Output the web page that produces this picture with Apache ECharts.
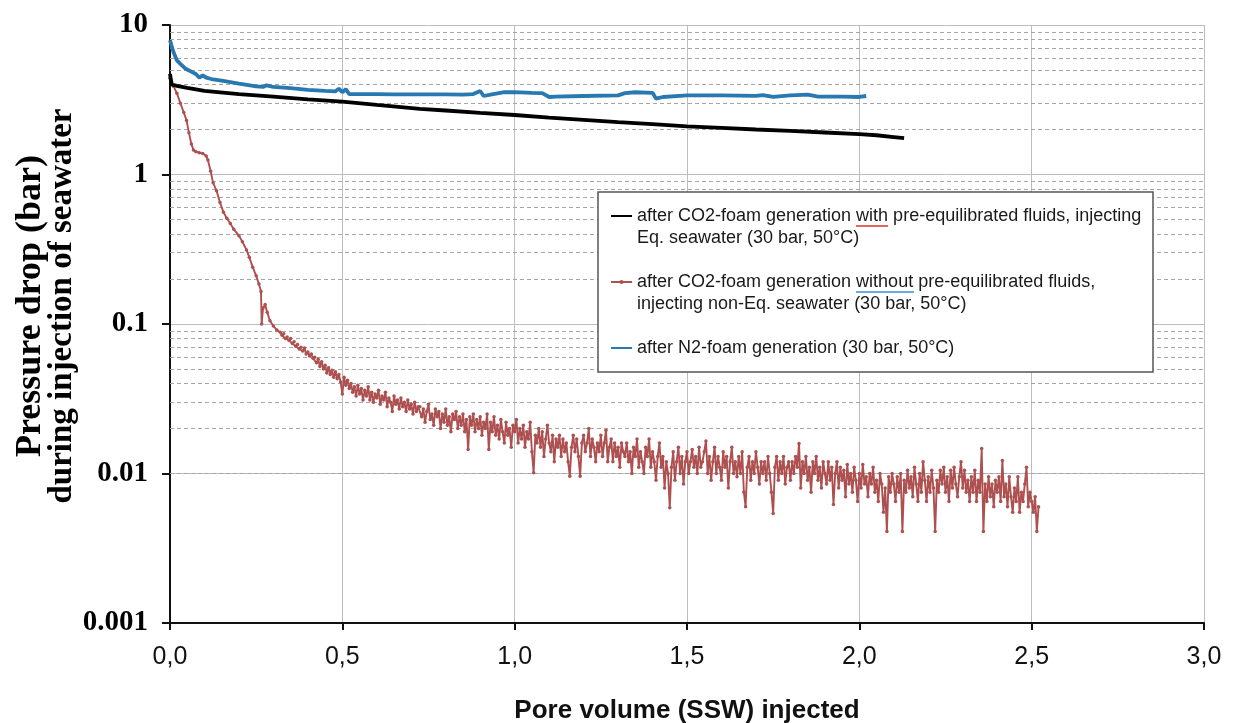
<!DOCTYPE html>
<html>
<head>
<meta charset="utf-8">
<script src="https://cdn.jsdelivr.net/npm/echarts@6/dist/echarts.min.js"></script>
<style>
  html, body { margin: 0; padding: 0; background: #fff; }
  #chart { width: 1233px; height: 723px; }
</style>
</head>
<body>
<div id="chart"></div>
<script>
// Axis tick labels
const xTickLabels = ['0,0', '0,5', '1,0', '1,5', '2,0', '2,5', '3,0'];
const yTickLabels = ['0.001', '0.01', '0.1', '1', '10'];

// Axis titles
const xTitle = 'Pore volume (SSW) injected';
const yTitleLines = ['Pressure drop (bar)', 'during injection of seawater'];

// Legend / series names
const seriesNames = [
  'after CO2-foam generation with pre-equilibrated fluids, injecting\nEq. seawater (30 bar, 50°C)',
  'after CO2-foam generation without pre-equilibrated fluids,\ninjecting non-Eq. seawater (30 bar, 50°C)',
  'after N2-foam generation (30 bar, 50°C)'
];

// CO2 foam, pre-equilibrated fluids: [pore volume, pressure drop (bar)]
const co2EqData = [
  [0, 4.7], [0.005, 4.0], [0.02, 3.92], [0.05, 3.8], [0.1, 3.62], [0.2, 3.45],
  [0.3, 3.32], [0.4, 3.18], [0.5, 3.07], [0.6, 2.92], [0.725, 2.75], [0.8, 2.68],
  [0.9, 2.58], [1.0, 2.5], [1.1, 2.4], [1.2, 2.32], [1.3, 2.24], [1.4, 2.17],
  [1.5, 2.1], [1.6, 2.05], [1.7, 2.0], [1.8, 1.96], [1.9, 1.91], [2.0, 1.86],
  [2.05, 1.83], [2.1, 1.78], [2.13, 1.75]
];

// N2 foam: [pore volume, pressure drop (bar)]
const n2Data = [
  [0, 7.9], [0.005, 7.2], [0.01, 6.6], [0.02, 5.8], [0.03, 5.5], [0.045, 5.1],
  [0.06, 4.9], [0.075, 4.7], [0.085, 4.45], [0.095, 4.6], [0.105, 4.45], [0.12, 4.35],
  [0.15, 4.25], [0.2, 4.05], [0.25, 3.88], [0.27, 3.85], [0.28, 3.95], [0.3, 3.85],
  [0.35, 3.78], [0.4, 3.68], [0.45, 3.62], [0.48, 3.6], [0.49, 3.75], [0.5, 3.55],
  [0.51, 3.72], [0.52, 3.45], [0.55, 3.45], [0.6, 3.45], [0.65, 3.44], [0.7, 3.44],
  [0.75, 3.43], [0.8, 3.44], [0.85, 3.42], [0.88, 3.45], [0.9, 3.62], [0.91, 3.35],
  [0.93, 3.42], [0.97, 3.55], [1.0, 3.56], [1.05, 3.52], [1.08, 3.5], [1.1, 3.3],
  [1.12, 3.32], [1.2, 3.35], [1.3, 3.38], [1.32, 3.5], [1.35, 3.55], [1.4, 3.52],
  [1.41, 3.22], [1.43, 3.3], [1.5, 3.38], [1.6, 3.38], [1.7, 3.36], [1.72, 3.4],
  [1.75, 3.3], [1.8, 3.38], [1.85, 3.42], [1.88, 3.32], [1.95, 3.32], [2.0, 3.3],
  [2.02, 3.35]
];

// CO2 foam, non-equilibrated seawater: initial decline [pore volume, pressure drop (bar)]
const co2NonEqDecline = [
  [0, 4.4], [0.004, 4.2], [0.01, 3.9], [0.02, 3.5], [0.03, 3.0], [0.04, 2.6],
  [0.048, 2.3], [0.055, 1.9], [0.062, 1.6], [0.068, 1.46], [0.075, 1.42], [0.085, 1.4],
  [0.095, 1.38], [0.105, 1.33], [0.11, 1.25], [0.118, 1.05], [0.125, 0.88], [0.135, 0.78],
  [0.145, 0.65], [0.155, 0.56], [0.165, 0.51], [0.175, 0.47], [0.185, 0.43], [0.2, 0.39],
  [0.21, 0.355], [0.222, 0.313], [0.23, 0.28], [0.24, 0.24], [0.25, 0.21], [0.258, 0.185],
  [0.264, 0.165], [0.266, 0.1], [0.27, 0.128], [0.276, 0.135], [0.282, 0.12], [0.29, 0.105],
  [0.3, 0.097], [0.31, 0.091]
];

// CO2 foam, non-equilibrated seawater: logged readings from 0.32 PV, every 0.005 PV
const co2NonEqTailStart = 0.32;
const co2NonEqTailStep = 0.005;
const co2NonEqTail = [
  .088, .084, .086, .080, .082, .078, .080, .074, .076, .071,
  .073, .068, .070, .066, .069, .063, .065, .061, .063, .059, .060,
  .055, .058, .052, .056, .050, .053, .047, .051, .046, .049,
  .044, .048, .043, .046, .041, .034, .044, .039, .042, .037,
  .040, .035, .038, .033, .039, .034, .037, .031, .036, .033,
  .038, .031, .035, .030, .034, .032, .036, .029, .033, .031,
  .035, .028, .032, .030, .026, .033, .029, .031, .027, .032,
  .028, .030, .026, .031, .027, .029, .025, .030, .026, .028,
  .028, .024, .027, .022, .026, .029, .023, .025, .021, .027,
  .024, .026, .020, .025, .022, .027, .021, .024, .019, .025,
  .023, .026, .020, .024, .021, .025, .019, .023, .0145, .024,
  .021, .025, .019, .023, .020, .024, .018, .022, .020, .025,
  .0145, .022, .019, .024, .018, .021, .017, .023, .019, .016,
  .022, .018, .020, .015, .021, .019, .023, .016, .020, .017,
  .021, .015, .019, .017, .022, .014, .0101, .018, .016, .020,
  .015, .019, .013, .017, .021, .016, .014, .018, .012, .017,
  .015, .018, .013, .017, .014, .016, .012, .0096, .015, .018,
  .014, .017, .013, .0096, .016, .018, .014, .016, .020, .013,
  .017, .015, .012, .016, .014, .018, .013, .016, .0195, .012,
  .015, .017, .012, .016, .013, .015, .011, .016, .014, .013,
  .016, .012, .014, .010, .015, .013, .017, .011, .014, .012,
  .010, .015, .013, .017, .011, .014, .012, .009, .013, .016,
  .011, .013, .008, .012, .010, .0059, .011, .014, .009, .012,
  .015, .010, .013, .0085, .012, .014, .010, .012, .0145, .011,
  .013, .010, .015, .011, .012, .014, .0165, .010, .013, .009,
  .012, .015, .010, .013, .011, .009, .014, .011, .013, .008,
  .012, .015, .010, .012, .0095, .013, .010, .014, .0075, .006,
  .011, .013, .009, .012, .010, .014, .011, .0085, .012, .010,
  .012, .009, .013, .010, .0075, .0054, .011, .013, .009, .012,
  .010, .013, .0085, .011, .012, .009, .012, .010, .013, .011,
  .0159, .008, .012, .010, .013, .009, .011, .0075, .012, .010,
  .013, .009, .011, .008, .012, .010, .0085, .012, .009, .011,
  .0062, .010, .012, .008, .011, .009, .0105, .007, .0115, .0085,
  .010, .0075, .011, .009, .0065, .010, .008, .0115, .0085, .0095,
  .007, .010, .0085, .011, .0075, .009, .0065, .010, .0085, .0055,
  .008, .0041, .0095, .0075, .010, .0085, .0065, .0095, .0075, .010,
  .0041, .009, .0075, .0105, .008, .0095, .007, .011, .0085, .0065,
  .010, .0075, .012, .009, .0065, .0095, .0075, .0105, .008, .0041,
  .009, .0075, .0105, .0085, .011, .0075, .0095, .0065, .0105, .008,
  .011, .0085, .007, .0095, .012, .008, .0105, .0075, .009, .0065,
  .0095, .0075, .0105, .0065, .009, .0075, .0147, .0041, .0085, .0065,
  .0095, .007, .0085, .006, .009, .0075, .0095, .0065, .0122, .007,
  .0085, .006, .0095, .007, .0055, .008, .0065, .0095, .0055, .0075,
  .0065, .0085, .011, .006, .0075, .0065, .0055, .007, .0041, .006
];

// Minor grid lines at 2..9 within each decade
const decades = [0.001, 0.01, 0.1, 1];
const minorSteps = [2, 3, 4, 5, 6, 7, 8, 9];

const co2NonEqData = co2NonEqDecline.concat(
  co2NonEqTail.map((v, i) => [+(co2NonEqTailStart + i * co2NonEqTailStep).toFixed(3), v])
);

const minorLines = [];
decades.forEach(d => minorSteps.forEach(k => minorLines.push({ yAxis: +(k * d).toPrecision(3) })));

const chart = echarts.init(document.getElementById('chart'), null, { renderer: 'canvas' });

const sansFont = '"Liberation Sans", Arial, sans-serif';
const serifFont = '"Liberation Serif", "Times New Roman", serif';
const hiddenMark = { color: 'rgba(0,0,0,0)', borderWidth: 0 };

function yTitleText(text, x, size) {
  return {
    type: 'text', z: 7, silent: true,
    x: x, y: 306, rotation: Math.PI / 2,
    style: {
      text: text, font: 'bold ' + size + 'px ' + serifFont, fill: '#000',
      align: 'center', verticalAlign: 'middle',
      textAlign: 'center', textVerticalAlign: 'middle'
    }
  };
}

chart.setOption({
  animation: false,
  backgroundColor: '#fff',
  grid: { left: 170, right: 29, top: 25, bottom: 100, containLabel: false, outerBoundsMode: 'none' },
  xAxis: {
    type: 'value', min: 0, max: 3, interval: 0.5,
    axisLine: { show: true, onZero: false, lineStyle: { color: '#111', width: 2 } },
    axisTick: { show: true, inside: false, length: 7, lineStyle: { color: '#111', width: 2 } },
    axisLabel: {
      margin: 22, fontFamily: sansFont, fontSize: 25, color: '#111',
      formatter: v => xTickLabels[Math.round(v / 0.5)]
    },
    splitLine: { show: true, lineStyle: { color: '#bdbdbd', width: 1 } },
    name: xTitle,
    nameLocation: 'middle', nameGap: 75,
    nameTextStyle: { fontFamily: sansFont, fontSize: 26, fontWeight: 'bold', color: '#111' }
  },
  yAxis: {
    type: 'log', logBase: 10, min: 0.001, max: 10,
    axisLine: { show: true, lineStyle: { color: '#111', width: 2 } },
    axisTick: { show: true, inside: false, length: 8, lineStyle: { color: '#111', width: 2 } },
    minorTick: { show: false },
    axisLabel: {
      margin: 22, fontFamily: serifFont, fontSize: 29, fontWeight: 'bold', color: '#000',
      formatter: v => yTickLabels[Math.round(Math.log10(v)) + 3]
    },
    splitLine: { show: true, lineStyle: { color: '#bdbdbd', width: 1 } }
  },
  legend: {
    orient: 'vertical', left: 610, top: 183, padding: 0, itemGap: 0,
    itemWidth: 21, itemHeight: 5, z: 6,
    lineStyle: { width: 2 },
    textStyle: { fontFamily: sansFont, fontSize: 18, color: '#1a1a1a', lineHeight: 22 },
    // an empty first line keeps each symbol level with the first line of its entry
    formatter: name => name === seriesNames[2] ? ' \n' + name + '\n ' : ' \n' + name,
    data: [
      { name: seriesNames[0], itemStyle: hiddenMark },
      { name: seriesNames[1] },
      { name: seriesNames[2], itemStyle: hiddenMark }
    ]
  },
  graphic: [
    {
      type: 'rect', z: 5, silent: true,
      shape: { x: 598, y: 192, width: 555, height: 180 },
      style: { fill: '#fff', stroke: '#555', lineWidth: 1.5 }
    },
    {
      type: 'line', z: 7, silent: true,
      shape: { x1: 856, y1: 226, x2: 888, y2: 226 },
      style: { stroke: '#e0302a', lineWidth: 1.5 }
    },
    {
      type: 'line', z: 7, silent: true,
      shape: { x1: 856, y1: 292, x2: 914, y2: 292 },
      style: { stroke: '#3a8fd8', lineWidth: 1.5 }
    },
    yTitleText(yTitleLines[0], 31, 36),
    yTitleText(yTitleLines[1], 62, 33)
  ],
  series: [
    {
      name: seriesNames[0], type: 'line', z: 3,
      data: co2EqData, showSymbol: false, symbol: 'none',
      lineStyle: { color: '#000', width: 3.8 }, itemStyle: { color: '#000' },
      markLine: {
        silent: true, z: 1, symbol: ['none', 'none'], label: { show: false },
        lineStyle: { color: '#a6a6a6', width: 1, type: [4, 3] },
        emphasis: { disabled: true },
        data: minorLines
      }
    },
    {
      name: seriesNames[1], type: 'line', z: 2,
      data: co2NonEqData, symbol: 'circle', symbolSize: 3.5, showSymbol: true, showAllSymbol: true,
      lineStyle: { color: '#ad504f', width: 1.9 }, itemStyle: { color: '#ad504f' }
    },
    {
      name: seriesNames[2], type: 'line', z: 3,
      data: n2Data, showSymbol: false, symbol: 'none',
      lineStyle: { color: '#2878b2', width: 3.8 }, itemStyle: { color: '#2878b2' }
    }
  ]
});
</script>
</body>
</html>
